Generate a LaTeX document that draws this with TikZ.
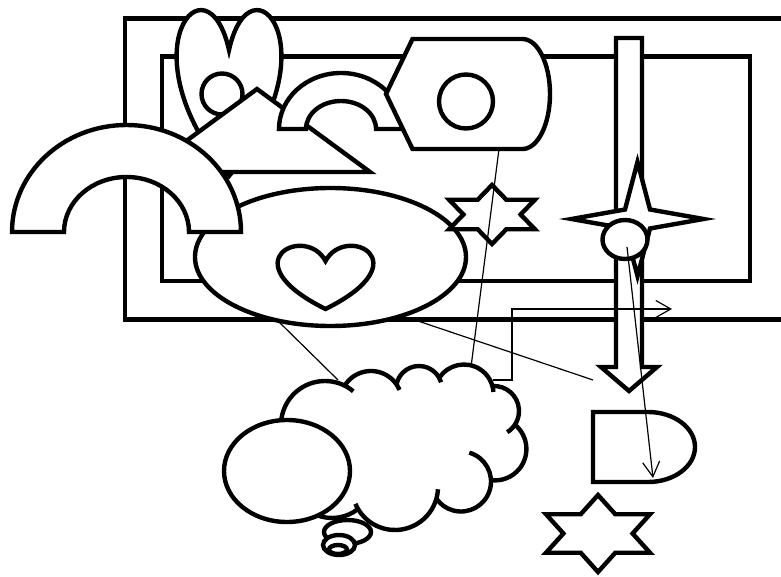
\documentclass[tikz,border=0pt]{standalone}
\usetikzlibrary{arrows.meta}
\tikzset{
  shp/.style={line width=4.4pt, draw=black, fill=white},
  frame/.style={line width=4.4pt, draw=black},
  cloudline/.style={line width=4.4pt, draw=black},
  conn/.style={line width=1.2pt, draw=black},
  barb/.style={-{Straight Barb[length=15pt,width=17pt]}},
}
\begin{document}
\begin{tikzpicture}[x=1pt,y=-1pt]
\useasboundingbox (0,0) rectangle (781,577);
\clip (0,0) rectangle (781,577);
% frames
\draw[frame] (125,18.5) rectangle (840,319.5);
\draw[frame] (162,56.5) rectangle (750,281);
% top heart
\draw[shp] (229,50) .. controls (250.7,-48) and (335.2,50) .. (229,176)
  .. controls (122.8,50) and (207.3,-48) .. (229,50) -- cycle;
% small circle
\draw[shp] (222,94) circle[radius=20.5];
% triangle
\draw[shp] (257,89) -- (370,172) -- (144,172) -- cycle;
% small arch
\draw[shp] (279,129) arc[start angle=180,end angle=360,x radius=62,y radius=56]
  -- (376,129) arc[start angle=0,end angle=-180,x radius=35,y radius=28] -- cycle;
% display shape
\draw[shp] (386,94) -- (412.5,39) -- (522.5,39)
  arc[start angle=270,end angle=450,x radius=27.5,y radius=55] -- (412.5,149) -- cycle;
\draw[shp] (466,101.5) circle[radius=27];
% main ellipse and heart
\draw[shp] (330.5,257) ellipse[x radius=135.5,y radius=69];
\draw[shp] (325.5,261) .. controls (345.3,223.7) and (422.5,261) .. (325.5,309)
  .. controls (228.5,261) and (305.7,223.7) .. (325.5,261) -- cycle;
% big arch
\draw[shp] (12,232) arc[start angle=180,end angle=360,x radius=114.5,y radius=107]
  -- (189,232) arc[start angle=0,end angle=-180,x radius=62.5,y radius=55] -- cycle;
% middle six-point star
\draw[shp] (492,185) -- (506.3,199.75) -- (534.9,199.75) -- (520.6,214.5) -- (534.9,229.25)
  -- (506.3,229.25) -- (492,244) -- (477.7,229.25) -- (449.1,229.25) -- (463.4,214.5)
  -- (449.1,199.75) -- (477.7,199.75) -- cycle;
% down arrow
\draw[shp] (616,38) -- (642,38) -- (642,367) -- (657,367) -- (629,391)
  -- (601,367) -- (616,367) -- cycle;
% four-point star
\draw[shp] (703.5,219) -- (650,228.5) -- (637.5,276) -- (625,228.5) -- (571.5,219)
  -- (625,209.5) -- (637.5,162) -- (650,209.5) -- cycle;
% small ellipse
\draw[shp] (625,239.5) ellipse[x radius=22.5,y radius=19.5];
% delay shape
\draw[shp] (593,412) -- (648,412) arc[start angle=270,end angle=450,x radius=47,y radius=35]
  -- (593,482) -- cycle;
% bottom six-point star
\draw[shp] (598,495) -- (615.3,514.25) -- (650,514.25) -- (632.6,533.5) -- (650,552.75)
  -- (615.3,552.75) -- (598,572) -- (580.7,552.75) -- (546,552.75) -- (563.4,533.5)
  -- (546,514.25) -- (580.7,514.25) -- cycle;
% cloud: fill
\fill[white] (325,425) circle[radius=44] (371,402) circle[radius=31]
  (419,389) circle[radius=23] (464,394) circle[radius=29.5]
  (494,411) circle[radius=25] (495,449) circle[radius=31.4]
  (461,481.5) circle[radius=30] (395,487) circle[radius=43]
  (332,476) circle[radius=42];
\fill[white] (325,425) -- (371,402) -- (419,389) -- (464,394) -- (494,411)
  -- (495,449) -- (461,481.5) -- (395,487) -- (332,476) -- cycle;
% cloud: outline arcs
\draw[cloudline] ([shift={(150:44)}]325,425) arc[start angle=150,end angle=310,radius=44];
\draw[cloudline] ([shift={(211.8:31)}]371,402) arc[start angle=211.8,end angle=337,radius=31];
\draw[cloudline] ([shift={(191.8:23)}]419,389) arc[start angle=191.8,end angle=343,radius=23];
\draw[cloudline] ([shift={(212.8:29.5)}]464,394) arc[start angle=212.8,end angle=356,radius=29.5];
\draw[cloudline] ([shift={(266.3:25)}]494,411) arc[start angle=266.3,end angle=418,radius=25];
\draw[cloudline] ([shift={(-50.7:31.4)}]495,449) arc[start angle=-50.7,end angle=97.5,radius=31.4];
\draw[cloudline] ([shift={(-74:30)}]461,481.5) arc[start angle=-74,end angle=144.9,radius=30];
\draw[cloudline] ([shift={(3:43)}]395,487) arc[start angle=3,end angle=157,radius=43];
\draw[cloudline] ([shift={(51.7:42)}]332,476) arc[start angle=51.7,end angle=150,radius=42];
% cloud tail
\draw[shp] (347.5,532) ellipse[x radius=23.5,y radius=12];
\draw[shp] (339,545) ellipse[x radius=16,y radius=10];
\draw[shp] (338,549.5) ellipse[x radius=9,y radius=4.5];
% left ellipse
\draw[shp] (287,471) ellipse[x radius=63,y radius=51];
% connectors
\coordinate (c1a) at (278,321);
\coordinate (c1b) at (338,380);
\coordinate (c2a) at (418,321);
\coordinate (c2b) at (593,380);
\coordinate (c3a) at (493,380);
\coordinate (c3b) at (672,309);
\coordinate (c4a) at (499,149);
\coordinate (c4b) at (471,367);
\coordinate (c5a) at (627,247);
\coordinate (c5b) at (653,478);
\draw[conn] (c1a) -- (c1b);
\draw[conn] (c2a) -- (c2b);
\draw[conn,barb] (c3a) -- ++(19,0) |- (c3b);
\draw[conn] (c4a) -- (c4b);
\draw[conn,barb] (c5a) -- (c5b);
\end{tikzpicture}
\end{document}
